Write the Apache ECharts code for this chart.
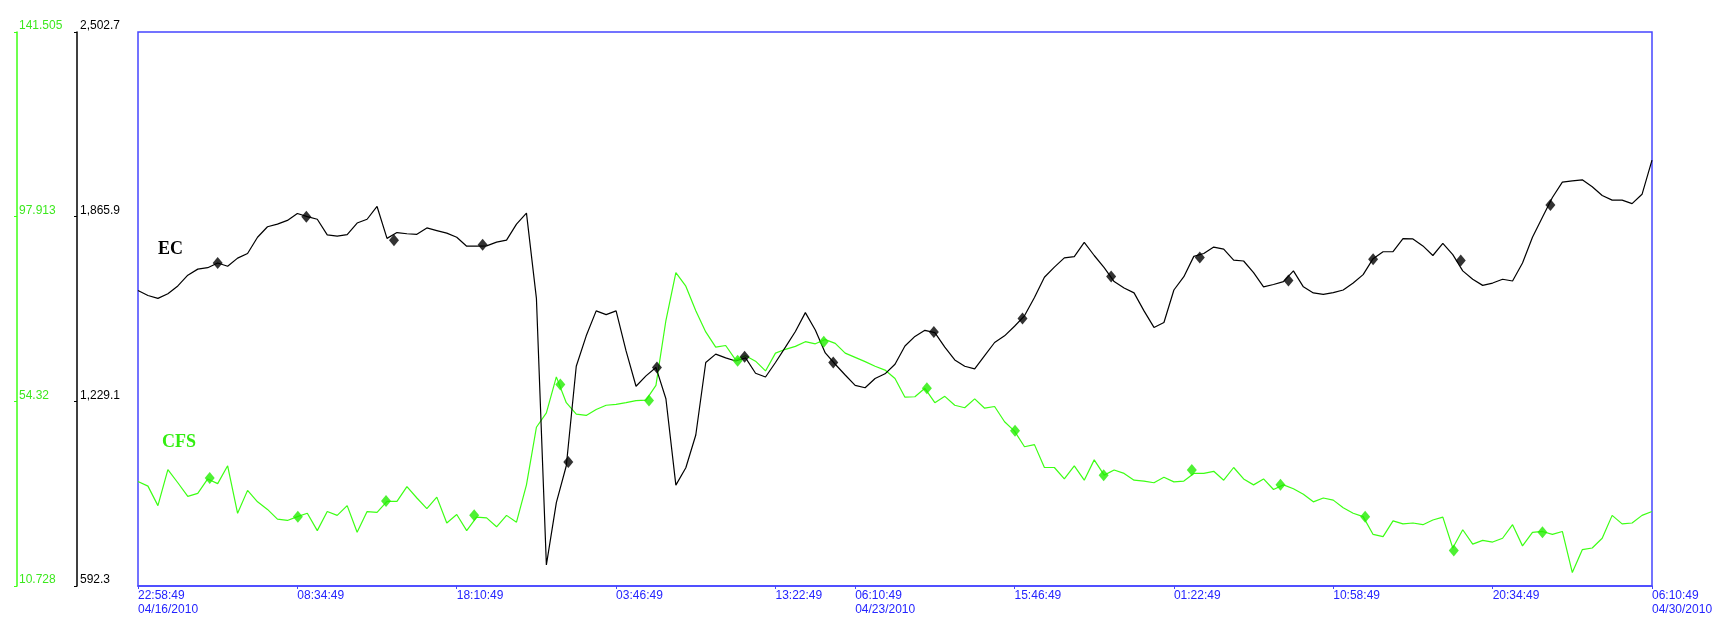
<!DOCTYPE html>
<html><head><meta charset="utf-8">
<script src="https://cdn.jsdelivr.net/npm/echarts@6.0.0/dist/echarts.min.js"></script>
<style>html,body{margin:0;padding:0;background:#fff}#c{width:1719px;height:627px}</style>
</head><body><div id="c"></div>
<script>
// EC series (black), one value per sample
const ecValues = [
1611,1594,1584,1600,1627,1664,1685,1690,1706,1695,
1723,1739,1795,1831,1840,1853,1877,1866,1857,1803,
1799,1804,1844,1857,1901,1791,1811,1807,1805,1827,
1818,1809,1795,1764,1764,1765,1778,1785,1840,1878,
1584,665,880,1007,1350,1455,1541,1528,1541,1403,
1281,1317,1346,1238,940,1000,1113,1363,1392,1379,
1368,1379,1326,1313,1363,1416,1470,1535,1475,1396,
1357,1320,1284,1276,1308,1324,1357,1420,1453,1474,
1466,1416,1372,1350,1341,1387,1432,1455,1488,1524,
1587,1657,1692,1724,1728,1777,1732,1690,1642,1620,
1603,1541,1484,1501,1613,1659,1729,1739,1761,1754,
1716,1713,1673,1624,1632,1642,1679,1624,1603,1598,
1604,1613,1637,1666,1721,1745,1745,1790,1789,1765,
1732,1774,1735,1679,1650,1629,1637,1650,1644,1706,
1795,1864,1932,1985,1989,1993,1969,1939,1923,1923,
1911,1943,2061
];
// CFS series (green), one value per sample
const cfsValues = [
35.4,34.3,29.7,38.2,35.1,31.9,32.6,36.0,34.9,39.1,
27.9,33.3,30.6,28.8,26.5,26.2,27.1,27.9,23.8,28.3,
27.4,29.7,23.4,28.3,28.1,30.7,30.7,34.2,31.5,29.0,
31.7,25.6,27.6,23.8,27.0,26.8,24.7,27.4,25.8,34.6,
48.2,51.6,60.1,54.0,51.3,51.0,52.4,53.4,53.6,54.0,
54.5,54.6,58.1,73.4,84.7,81.5,75.7,70.7,67.1,67.5,
64.1,65.1,63.8,61.5,65.7,66.6,67.3,68.4,67.9,68.9,
68.0,65.7,64.7,63.7,62.6,61.7,59.7,55.3,55.4,57.4,
54.0,55.5,53.4,52.8,54.9,52.7,53.1,49.5,47.3,43.6,
44.1,38.7,38.7,36.0,39.1,35.7,40.5,36.9,38.1,37.3,
35.7,35.5,35.1,36.4,35.3,35.5,37.3,37.3,37.8,35.7,
38.7,36.0,34.6,36.0,33.5,34.6,33.7,32.4,30.6,31.5,
31.0,29.2,27.9,27.1,22.9,22.4,26.1,25.4,25.6,25.2,
26.3,27.0,19.7,24.0,20.6,21.5,21.1,22.0,25.2,20.2,
23.4,23.6,22.9,23.6,13.9,19.3,19.7,22.0,27.4,25.4,
25.6,27.4,28.3
];
// marker points (sample position, value)
const ecMarkerX = [8.0,16.9,25.7,34.6,43.2,52.1,60.9,69.8,79.9,88.8,97.7,106.6,115.5,124.0,132.8,141.8];
const ecMarkerY = [1706,1866,1785,1769,1020,1346,1383,1363,1468,1515,1660,1725,1646,1719,1715,1906];
const cfsMarkerX = [7.2,16.05,24.9,33.75,42.4,51.3,60.2,68.85,79.2,88.05,96.95,105.8,114.7,123.2,132.1,141.0];
const cfsMarkerY = [36.2,27.1,30.8,27.4,58.3,54.5,63.9,68.4,57.4,47.4,36.9,38.1,34.6,27.1,19.1,23.4];
// x tick positions (sample index) and labels
const xTickPos = [0,16,32,48,64,72,88,104,120,136,152];
const xTickLabels = ['22:58:49\n04/16/2010','08:34:49','18:10:49','03:46:49','13:22:49','06:10:49\n04/23/2010','15:46:49','01:22:49','10:58:49','20:34:49','06:10:49\n04/30/2010'];
// y ticks
const ecTicks = [592.3,1229.1,1865.9,2502.7];
const ecTickLabels = ['592.3','1,229.1','1,865.9','2,502.7'];
const cfsTicks = [10.728,54.32,97.913,141.505];
const cfsTickLabels = ['10.728','54.32','97.913','141.505'];

const BLUE = '#4646ff', BLUE_TXT = '#2424ff', GREEN = '#3cff14', GREEN_TXT = '#3ce81e';
function lookup(vals, labels, v){ const k = vals.findIndex(t => Math.abs(t - v) < 1e-6 * Math.max(1, Math.abs(t))); return k < 0 ? '' : labels[k]; }

const chart = echarts.init(document.getElementById('c'), null, {renderer:'canvas'});
chart.setOption({
  animation:false,
  backgroundColor:'#fff',
  grid:{left:138, top:32, right:67, bottom:41, show:true, borderColor:BLUE, borderWidth:1.5, backgroundColor:'transparent'},
  xAxis:{type:'value', min:0, max:152,
    axisLine:{show:true, onZero:false, lineStyle:{color:BLUE, width:1.5}},
    splitLine:{show:false},
    axisTick:{show:true, customValues:xTickPos, length:3, lineStyle:{color:BLUE}},
    axisLabel:{customValues:xTickPos, formatter:v=>lookup(xTickPos,xTickLabels,v), align:'left', color:BLUE_TXT,
      fontSize:12, fontFamily:'Liberation Sans, Arial, sans-serif', lineHeight:14, margin:3}
  },
  yAxis:[
    {type:'value', min:592.3, max:2502.7, position:'left', offset:61,
      axisLine:{show:true, onZero:false, lineStyle:{color:'#000', width:1.5}},
      axisTick:{show:true, customValues:ecTicks, length:3, lineStyle:{color:'#000'}},
      axisLabel:{inside:true, customValues:ecTicks, formatter:v=>lookup(ecTicks,ecTickLabels,v), color:'#000', margin:3,
        verticalAlign:'bottom', fontSize:12, fontFamily:'Liberation Sans, Arial, sans-serif'},
      splitLine:{show:false}},
    {type:'value', min:10.728, max:141.505, position:'left', offset:121,
      axisLine:{show:true, onZero:false, lineStyle:{color:GREEN, width:1.5}},
      axisTick:{show:true, customValues:cfsTicks, length:3, lineStyle:{color:GREEN}},
      axisLabel:{inside:true, customValues:cfsTicks, formatter:v=>lookup(cfsTicks,cfsTickLabels,v), color:GREEN_TXT, margin:2,
        verticalAlign:'bottom', fontSize:12, fontFamily:'Liberation Sans, Arial, sans-serif'},
      splitLine:{show:false}}
  ],
  series:[
    {name:'EC', type:'line', yAxisIndex:0, data:ecValues.map((v,i)=>[i,v]), symbol:'none', lineStyle:{color:'#000', width:1.2}, z:3},
    {name:'CFS', type:'line', yAxisIndex:1, data:cfsValues.map((v,i)=>[i,v]), symbol:'none', lineStyle:{color:GREEN, width:1.2}, z:2},
    {name:'EC pts', type:'scatter', yAxisIndex:0, data:ecMarkerX.map((x,k)=>[x,ecMarkerY[k]]), symbol:'diamond', symbolSize:[10,12], itemStyle:{color:'#000'}, z:5},
    {name:'CFS pts', type:'scatter', yAxisIndex:1, data:cfsMarkerX.map((x,k)=>[x,cfsMarkerY[k]]), symbol:'diamond', symbolSize:[10,12], itemStyle:{color:'#22ee00'}, z:4}
  ],
  graphic:[
    {type:'text', left:158, top:240, style:{text:'EC', fill:'#000', font:'bold 18px "Liberation Serif", "Times New Roman", serif'}},
    {type:'text', left:162, top:433, style:{text:'CFS', fill:'#33ee11', font:'bold 18px "Liberation Serif", "Times New Roman", serif'}}
  ]
});
</script></body></html>
